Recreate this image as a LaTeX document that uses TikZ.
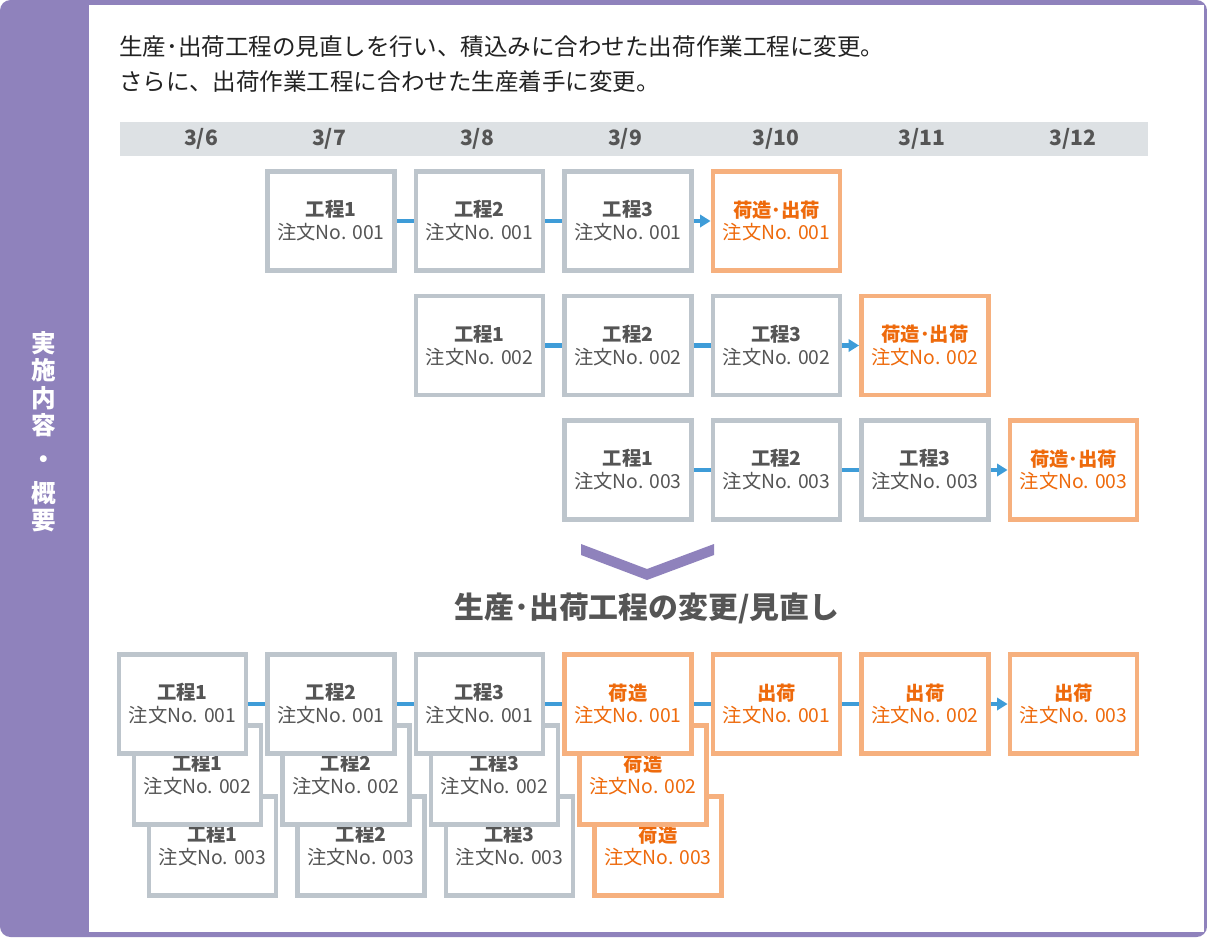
\documentclass[tikz,border=0pt]{standalone}
\usepackage{fontspec}
\setmainfont{Noto Sans CJK JP}
\usetikzlibrary{arrows.meta}

\definecolor{panel}{HTML}{8F82BC}
\definecolor{grayline}{HTML}{BDC5CC}
\definecolor{orangeline}{HTML}{F6B07E}
\definecolor{orangetext}{HTML}{EE6A0C}
\definecolor{linkblue}{HTML}{3E9CD8}
\definecolor{textgray}{HTML}{555555}
\definecolor{headtext}{HTML}{222222}
\definecolor{datebar}{HTML}{DDE1E4}

\begin{document}
\begin{tikzpicture}[x=0.02cm, y=-0.02cm,
	koutei/.style={draw=grayline, line width=2.8pt, fill=white, minimum width=2.54cm, minimum height=1.98cm, inner sep=0pt, align=center, text=textgray, font=\fontsize{11}{13}\selectfont},
	nizukuri/.style={koutei, draw=orangeline, text=orangetext},
	datum/.style={text=textgray, font=\bfseries\fontsize{12}{14}\selectfont},
	link/.style={draw=linkblue, line width=2.3pt},
	linkend/.style={link, -{Triangle[length=6pt, width=7pt]}}]
	\useasboundingbox (0,0) rectangle (1207,937);
	
	% frame and side panel
	\fill[panel, rounded corners=6pt] (0,0) rectangle (1207,937);
	\fill[white] (89,5) rectangle (1204,932);
	\node[text=white, font=\bfseries\fontsize{14}{15.5}\selectfont, align=center] (side) at (44,432) {実\\施\\内\\容\\[4pt]・\\[4pt]概\\要};
	
	\node[anchor=west, text=headtext, font=\fontsize{13.4}{19.8}\selectfont, align=left] (intro) at (113,64) {生産･出荷工程の見直しを行い、積込みに合わせた出荷作業工程に変更。\\さらに、出荷作業工程に合わせた生産着手に変更。};
	
	% dates
	\fill[datebar] (120,122) rectangle (1148,156);
	\foreach \x/\d in {201/6, 329/7, 477/8, 625/9, 776/10, 922/11, 1073/12}
		\node[datum] (day\d) at (\x,139) {3/\d};
	
	% before: one order after another
	\foreach \n in {1,2,3}{
		\foreach \s in {1,2,3}
			\node[koutei] (o\n-k\s) at ({331+148.5*(\n+\s-2)},{221+124.5*(\n-1)}) {\textbf{工程\s}\\注文No. 00\n};
		\node[nizukuri] (o\n-ship) at ({331+148.5*(\n+2)},{221+124.5*(\n-1)}) {\textbf{荷造･出荷}\\注文No. 00\n};
		\draw[link] (o\n-k1) -- (o\n-k2);
		\draw[link] (o\n-k2) -- (o\n-k3);
		\draw[linkend] (o\n-k3) -- (o\n-ship);
	}
	
	\fill[panel] (581,544) -- (647,569) -- (714,544) -- (714,555) -- (647,580) -- (581,555) -- cycle;
	\node[text=textgray, font=\bfseries\fontsize{17}{20}\selectfont] (change) at (647,608) {生産･出荷工程の変更/見直し};
	
	% after: stacked production, shipping one by one
	\foreach \s in {1,2,3}
		\foreach \n in {3,2,1}
			\node[koutei] (b\n-k\s) at ({182.5+148.5*(\s-1)+15*(\n-1)},{704+71*(\n-1)}) {\textbf{工程\s}\\注文No. 00\n};
	\foreach \n in {3,2,1}
		\node[nizukuri] (b\n-pack) at ({628+15*(\n-1)},{704+71*(\n-1)}) {\textbf{荷造}\\注文No. 00\n};
	\foreach \n in {1,2,3}
		\node[nizukuri] (ship\n) at ({776.5+148.5*(\n-1)},704) {\textbf{出荷}\\注文No. 00\n};
	
	\draw[link] (b1-k1) -- (b1-k2);
	\draw[link] (b1-k2) -- (b1-k3);
	\draw[link] (b1-k3) -- (b1-pack);
	\draw[link] (b1-pack) -- (ship1);
	\draw[link] (ship1) -- (ship2);
	\draw[linkend] (ship2) -- (ship3);
\end{tikzpicture}
\end{document}
